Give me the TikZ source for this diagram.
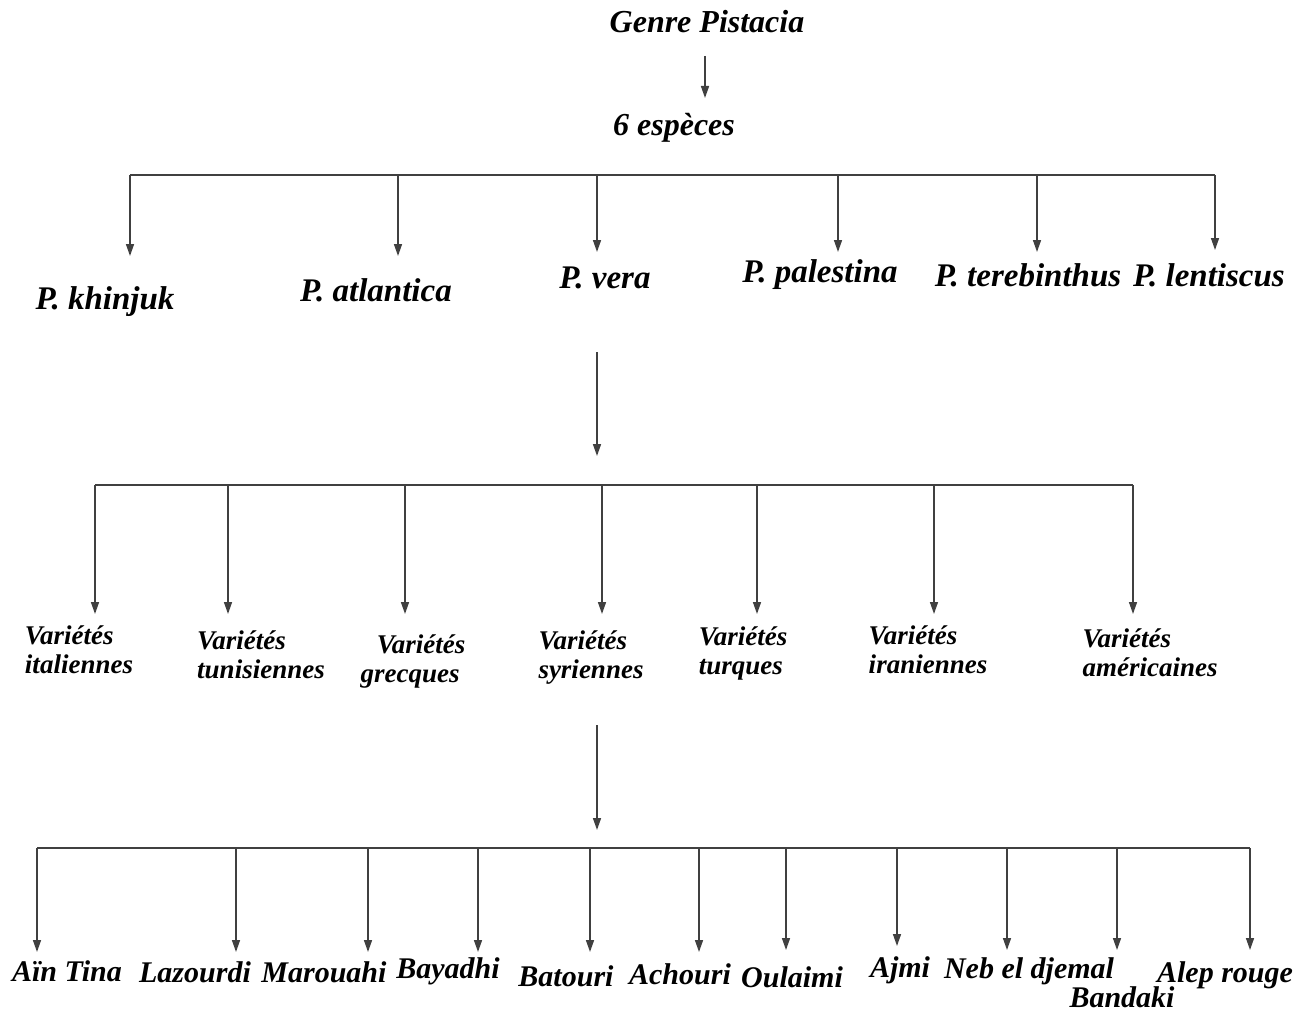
\documentclass[tikz,border=0pt]{standalone}
\usepackage{fontspec}
\setmainfont{Liberation Serif}
\usetikzlibrary{arrows.meta}
\begin{document}
\begin{tikzpicture}[x=1pt,y=-1pt,
  lbl/.style={font=\fontsize{33}{36}\selectfont\bfseries\itshape, text=black, inner sep=0pt},
  top/.style={font=\fontsize{32}{35}\selectfont\bfseries\itshape, text=black, inner sep=0pt},
  var/.style={font=\fontsize{27}{29}\selectfont\bfseries\itshape, text=black, inner sep=0pt, align=left},
  bot/.style={font=\fontsize{30}{33}\selectfont\bfseries\itshape, text=black, inner sep=0pt},
  ln/.style={draw=black!75, line width=1.5pt},
  arr/.style={ln, -{Triangle[length=12pt,width=8pt]}}]
\useasboundingbox[fill=white] (0,0) rectangle (1311,1014);

% top
\node[top] (genre) at (707,22) {Genre Pistacia};
\node[top] (esp) at (674,128) {6 espèces};
\coordinate (g0) at (705,56);
\coordinate (g1) at (705,98);
\draw[arr] (g0) -- (g1);

% species bar
\coordinate (s0) at (130,175);
\coordinate (s1) at (1215,175);
\draw[ln] (s0) -- (s1);
\node[lbl] (khi) at (105,302) {P. khinjuk};
\node[lbl] (atl) at (376,290) {P. atlantica};
\node[lbl] (ver) at (605,278) {P. vera};
\node[lbl] (pal) at (820,275) {P. palestina};
\node[lbl] (ter) at (1028,275) {P. terebinthus};
\node[lbl] (len) at (1209,275) {P. lentiscus};
\foreach \x/\t in {130/256, 398/256, 597/252, 838/252, 1037/252, 1215/250}{
  \coordinate (tip) at (\x,\t);
  \draw[arr] (tip |- s0) -- (tip);
}

% vera -> varieties
\coordinate (v0) at (597,352);
\coordinate (v1) at (597,456);
\draw[arr] (v0) -- (v1);

\coordinate (r0) at (95,485);
\coordinate (r1) at (1133,485);
\draw[ln] (r0) -- (r1);
\node[var] (ita) at (79,650) {Variétés\\italiennes};
\node[var] (tun) at (261,655) {Variétés\\tunisiennes};
\node[var] (gre) at (413,661) {\hspace{0.6em}Variétés\\grecques};
\node[var] (syr) at (591,658) {Variétés\\syriennes};
\node[var] (tur) at (743,653) {Variétés\\turques};
\node[var] (ira) at (928,650) {Variétés\\iraniennes};
\node[var] (ame) at (1150,653) {Variétés\\américaines};
\foreach \x in {95,228,405,602,757,934,1133}{
  \coordinate (tip) at (\x,614);
  \draw[arr] (tip |- r0) -- (tip);
}

% syriennes -> cultivars
\coordinate (c0) at (597,725);
\coordinate (c1) at (597,830);
\draw[arr] (c0) -- (c1);

\coordinate (q0) at (37,848);
\coordinate (q1) at (1250,848);
\draw[ln] (q0) -- (q1);
\node[bot] (ain) at (67,971) {Aïn Tina};
\node[bot] (laz) at (195,972) {Lazourdi};
\node[bot] (mar) at (324,972) {Marouahi};
\node[bot] (bay) at (448,971) {Bayadhi};
\node[bot] (bat) at (566,976) {Batouri};
\node[bot] (ach) at (680,974) {Achouri};
\node[bot] (oul) at (792,977) {Oulaimi};
\node[bot] (ajm) at (900,970) {Ajmi};
\node[bot] (neb) at (1029,971) {Neb el djemal};
\node[bot] (ban) at (1122,997) {Bandaki};
\node[bot] (ale) at (1225,975) {Alep rouge};
\foreach \x/\t in {37/952, 236/952, 368/952, 478/952, 590/952, 699/952, 786/950, 897/946, 1007/950, 1117/950, 1250/950}{
  \coordinate (tip) at (\x,\t);
  \draw[arr] (tip |- q0) -- (tip);
}
\end{tikzpicture}
\end{document}
